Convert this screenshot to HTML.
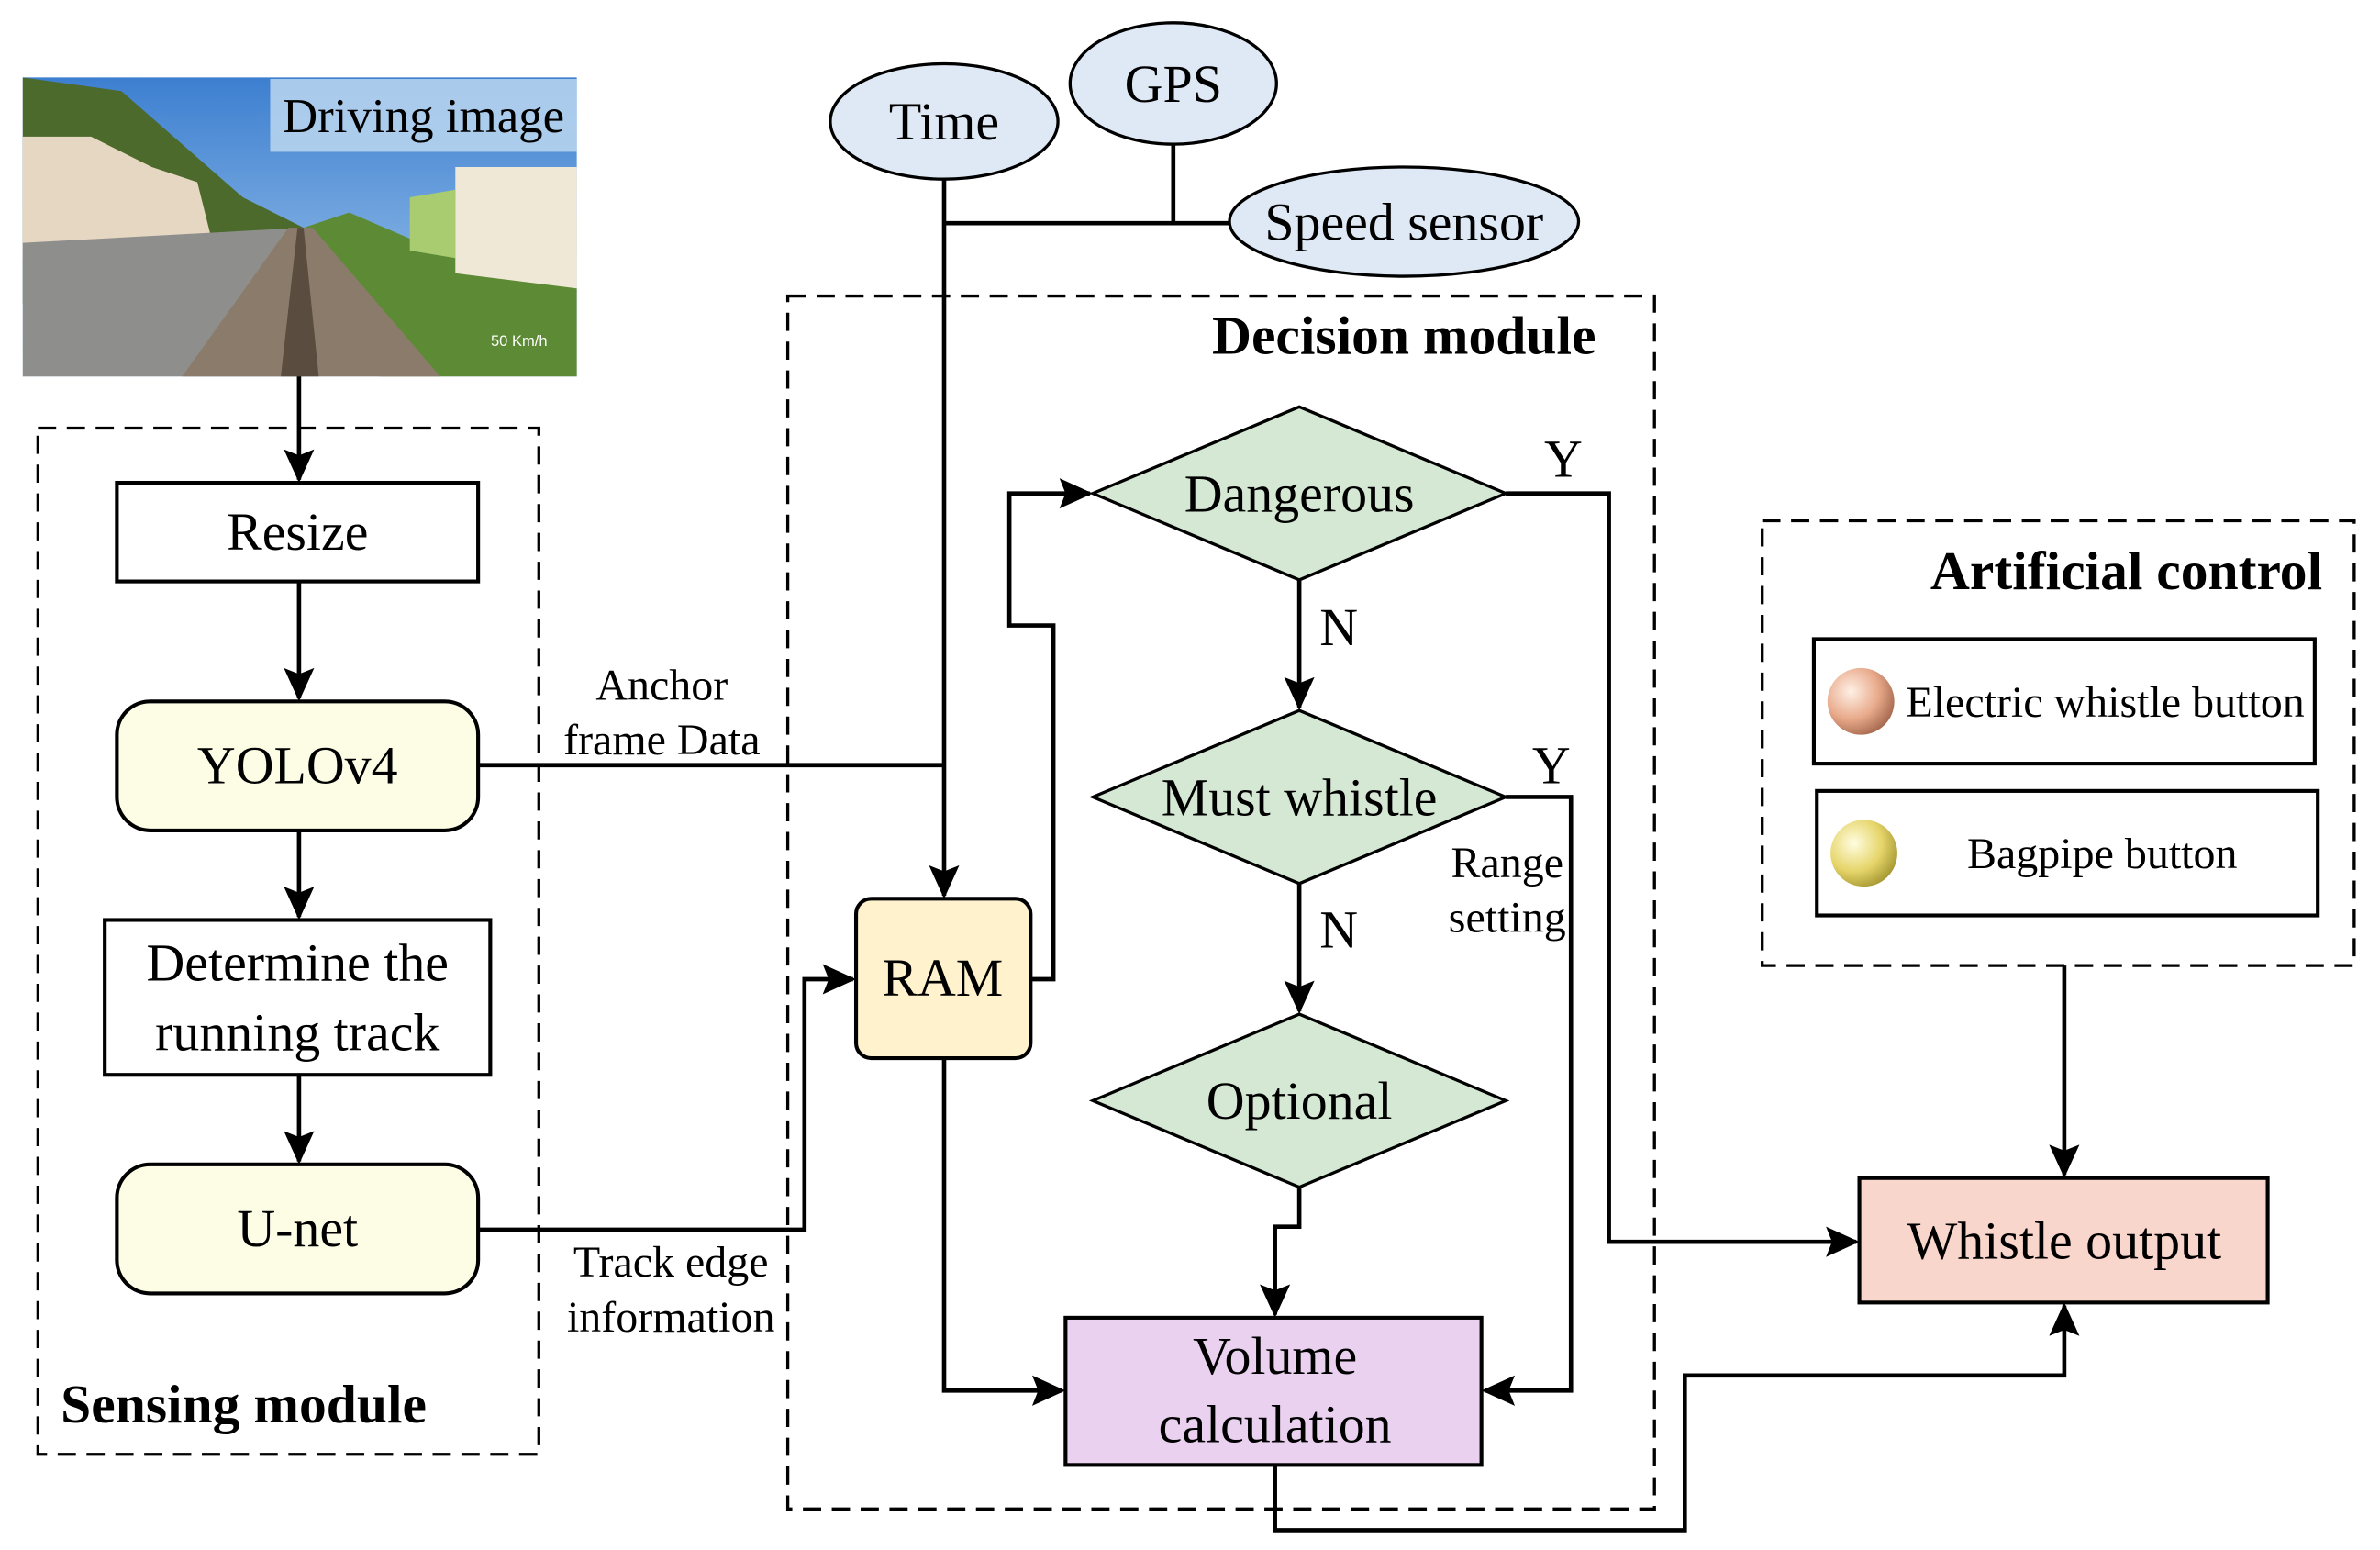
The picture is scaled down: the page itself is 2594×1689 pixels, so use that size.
<!DOCTYPE html>
<html><head><meta charset="utf-8"><style>html,body{margin:0;padding:0;background:#fff}svg{display:block}</style></head>
<body>
<svg width="2594" height="1689" viewBox="0 0 1568 1021" preserveAspectRatio="none" xmlns="http://www.w3.org/2000/svg" font-family="Liberation Serif, serif">
<defs>
<marker id="a" markerWidth="22" markerHeight="22" refX="20" refY="10" orient="auto" markerUnits="userSpaceOnUse" viewBox="0 0 22 20"><path d="M0,0 L22,10 L0,20 L4,10 z" fill="#000"/></marker>
<linearGradient id="sky" x1="0" y1="0" x2="0" y2="1"><stop offset="0" stop-color="#3d7fd0"/><stop offset="1" stop-color="#a9cdee"/></linearGradient>
<radialGradient id="s1" cx="0.35" cy="0.35" r="0.7"><stop offset="0" stop-color="#fff0e6"/><stop offset="0.6" stop-color="#e8a98a"/><stop offset="1" stop-color="#a86b50"/></radialGradient>
<radialGradient id="s2" cx="0.35" cy="0.35" r="0.7"><stop offset="0" stop-color="#fffde0"/><stop offset="0.6" stop-color="#e6d56a"/><stop offset="1" stop-color="#a89a35"/></radialGradient>
</defs>
<style>
.t{font-size:35px;text-anchor:middle}
.s{font-size:29px;text-anchor:middle}
.b{font-size:36px;font-weight:bold}
.l{stroke:#000;stroke-width:2.8;fill:none}
.d{stroke:#000;stroke-width:2;fill:none;stroke-dasharray:12,7}
</style>
<g>
<rect x="15" y="51" width="365" height="197" fill="url(#sky)"/>
<polygon points="15,51 80,60 160,130 200,150 15,200" fill="#4c6a2c"/>
<polygon points="15,90 60,90 100,110 130,120 140,160 15,170" fill="#e6d7c2"/>
<polygon points="15,160 200,150 200,248 15,248" fill="#8e8f8c"/>
<polygon points="200,150 230,140 300,170 380,190 380,248 250,248" fill="#5d8a35"/>
<polygon points="300,110 380,110 380,190 300,180" fill="#efe8d6"/>
<polygon points="270,130 300,125 300,170 270,165" fill="#a8cc6f"/>
<polygon points="190,150 206,150 290,248 120,248" fill="#8a7b6a"/>
<polygon points="196,150 200,150 210,248 185,248" fill="#5a4c3f"/>
<rect x="178" y="52" width="202" height="48" fill="#bcd7f0" opacity="0.85"/>
<text x="279" y="87" font-size="32" text-anchor="middle">Driving image</text>
<text x="342" y="228" font-size="10" fill="#fff" text-anchor="middle" font-family="Liberation Sans, sans-serif">50 Km/h</text>
</g>
<rect x="25" y="282" width="330" height="676" class="d"/>
<text x="40" y="937" class="b">Sensing module</text>
<rect x="77" y="318" width="238" height="65" fill="#fff" stroke="#000" stroke-width="2.5"/>
<text x="196" y="362" class="t">Resize</text>
<rect x="77" y="462" width="238" height="85" rx="22" fill="#fdfde6" stroke="#000" stroke-width="2.5"/>
<text x="196" y="516" class="t">YOLOv4</text>
<rect x="69" y="606" width="254" height="102" fill="#fff" stroke="#000" stroke-width="2.5"/>
<text x="196" y="646" class="t">Determine the</text>
<text x="196" y="692" class="t">running track</text>
<rect x="77" y="767" width="238" height="85" rx="22" fill="#fdfde6" stroke="#000" stroke-width="2.5"/>
<text x="196" y="821" class="t">U-net</text>
<path class="l" d="M197,248 V316" marker-end="url(#a)"/>
<path class="l" d="M197,383 V460" marker-end="url(#a)"/>
<path class="l" d="M197,547 V604" marker-end="url(#a)"/>
<path class="l" d="M197,708 V765" marker-end="url(#a)"/>
<ellipse cx="622" cy="80" rx="75" ry="38" fill="#dfe9f5" stroke="#000" stroke-width="2"/>
<text x="622" y="92" class="t">Time</text>
<ellipse cx="773" cy="55" rx="68" ry="40" fill="#dfe9f5" stroke="#000" stroke-width="2"/>
<text x="773" y="67" class="t">GPS</text>
<ellipse cx="925" cy="146" rx="115" ry="36" fill="#dfe9f5" stroke="#000" stroke-width="2"/>
<text x="925" y="158" class="t">Speed sensor</text>
<path class="l" d="M773,95 V147 M622,147 H810"/>
<path class="l" d="M622,118 V590" marker-end="url(#a)"/>
<rect x="519" y="195" width="571" height="799" class="d"/>
<text x="925" y="233" class="b" text-anchor="middle">Decision module</text>
<path class="l" d="M315,504 H622"/>
<text x="436" y="461" class="s">Anchor</text>
<text x="436" y="497" class="s">frame Data</text>
<rect x="564" y="592" width="115" height="105" rx="10" fill="#fff2cc" stroke="#000" stroke-width="2.5"/>
<text x="621" y="656" class="t">RAM</text>
<path class="l" d="M315,810 H530 V645 H562" marker-end="url(#a)"/>
<text x="442" y="841" class="s">Track edge</text>
<text x="442" y="877" class="s">information</text>
<path class="l" d="M679,645 H694 V412 H665 V325 H718" marker-end="url(#a)"/>
<polygon points="720,325 856,268 992,325 856,382" fill="#d5e8d4" stroke="#000" stroke-width="2"/>
<text x="856" y="337" class="t">Dangerous</text>
<polygon points="720,525 856,468 992,525 856,582" fill="#d5e8d4" stroke="#000" stroke-width="2"/>
<text x="856" y="537" class="t">Must whistle</text>
<polygon points="720,725 856,668 992,725 856,782" fill="#d5e8d4" stroke="#000" stroke-width="2"/>
<text x="856" y="737" class="t">Optional</text>
<path class="l" d="M856,382 V466" marker-end="url(#a)"/>
<text x="882" y="425" class="t">N</text>
<path class="l" d="M856,582 V666" marker-end="url(#a)"/>
<text x="882" y="624" class="t">N</text>
<path class="l" d="M856,782 V808 H840 V866" marker-end="url(#a)"/>
<rect x="702" y="868" width="274" height="97" fill="#ead1ef" stroke="#000" stroke-width="2.5"/>
<text x="840" y="905" class="t">Volume</text>
<text x="840" y="950" class="t">calculation</text>
<path class="l" d="M622,697 V916 H700" marker-end="url(#a)"/>
<path class="l" d="M992,525 H1035 V916 H978" marker-end="url(#a)"/>
<text x="1022" y="516" class="t">Y</text>
<text x="993" y="578" class="s">Range</text>
<text x="993" y="614" class="s">setting</text>
<path class="l" d="M992,325 H1060 V818 H1223" marker-end="url(#a)"/>
<text x="1030" y="314" class="t">Y</text>
<rect x="1225" y="776" width="269" height="82" fill="#f9d6cc" stroke="#000" stroke-width="2.5"/>
<text x="1360" y="829" class="t">Whistle output</text>
<path class="l" d="M840,965 V1008 H1110 V906 H1360 V860" marker-end="url(#a)"/>
<rect x="1161" y="343" width="390" height="293" class="d"/>
<text x="1530" y="388" class="b" text-anchor="end">Artificial control</text>
<rect x="1195" y="421" width="330" height="82" fill="#fff" stroke="#000" stroke-width="2.5"/>
<circle cx="1226" cy="462" r="22" fill="url(#s1)"/>
<text x="1387" y="472" font-size="29" text-anchor="middle">Electric whistle button</text>
<rect x="1197" y="521" width="330" height="82" fill="#fff" stroke="#000" stroke-width="2.5"/>
<circle cx="1228" cy="562" r="22" fill="url(#s2)"/>
<text x="1385" y="572" font-size="29" text-anchor="middle">Bagpipe button</text>
<path class="l" d="M1360,636 V774" marker-end="url(#a)"/>
</svg>
</body></html>
